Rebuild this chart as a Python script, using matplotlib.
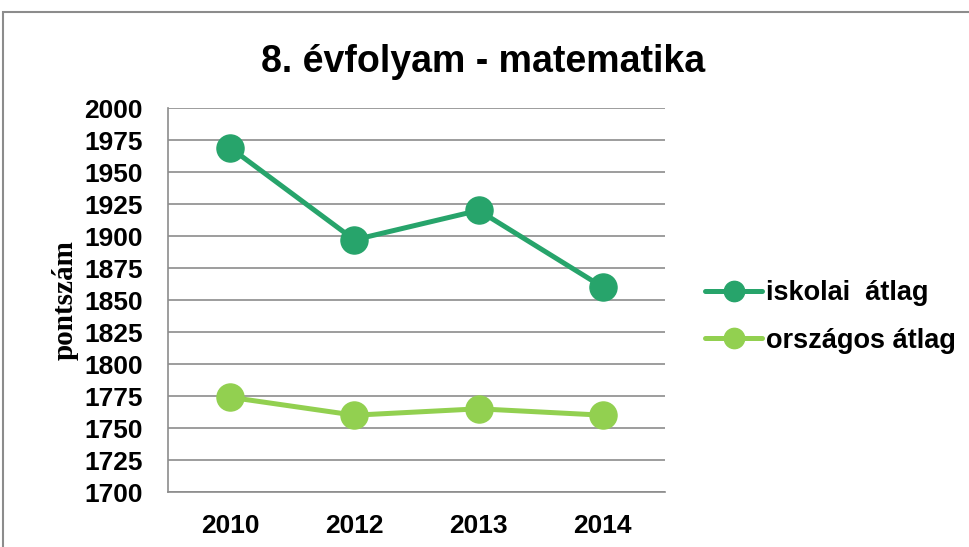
import matplotlib
matplotlib.use("Agg")
import matplotlib.pyplot as plt
from matplotlib.patches import Rectangle

years = ["2010", "2012", "2013", "2014"]
iskolai = [1969, 1897, 1920, 1860]
orszagos = [1774, 1760, 1765, 1760]
yticks = list(range(1700, 2001, 25))

title = "8. évfolyam - matematika"
ylabel = "pontszám"
labels = ["iskolai  átlag", "országos átlag"]
colors = ["#27A46B", "#92D050"]

fig = plt.figure(figsize=(9.69, 5.47), dpi=100)
W, H = 969, 547
ax = fig.add_axes([168 / W, 1 - 492 / H, (665 - 168) / W, (492 - 108) / H])

# outer border (cropped chart frame)
fig.patches.append(Rectangle((3 / W, -0.1), 1.1, 1 - 12 / H + 0.1, transform=fig.transFigure,
                             fill=False, edgecolor="#8c8c8c", linewidth=1.5))

x = list(range(len(years)))
for vals, c, lab in zip([iskolai, orszagos], colors, labels):
    ax.plot(x, vals, color=c, linewidth=3.6, marker="o", markersize=19.5, label=lab,
            solid_capstyle="round", zorder=3)

ax.set_xlim(-0.5, len(years) - 0.5)
ax.set_ylim(1700, 2000)
ax.set_yticks(yticks)
ax.set_xticks(x)
ax.set_xticklabels(years)
ax.yaxis.grid(True, color="#8c8c8c", linewidth=1.2)
ax.set_axisbelow(True)
for s in ["top", "right"]:
    ax.spines[s].set_visible(False)
for s in ["left", "bottom"]:
    ax.spines[s].set_color("#8c8c8c")
    ax.spines[s].set_linewidth(1.2)
ax.tick_params(axis="both", length=0)
ax.tick_params(axis="y", pad=18)
ax.tick_params(axis="x", pad=16)
for lbl in ax.get_yticklabels() + ax.get_xticklabels():
    lbl.set_fontfamily("Liberation Sans")
    lbl.set_fontweight("bold")
    lbl.set_fontsize(19)

ax.set_ylabel(ylabel, fontfamily="Liberation Serif", fontweight="bold", fontsize=21, labelpad=4)

fig.text(483 / W, 1 - 62 / H, title, ha="center", va="center",
         fontfamily="Liberation Sans", fontweight="bold", fontsize=27)

leg = fig.legend(loc="upper left", bbox_to_anchor=(700 / W, 1 - 275 / H), frameon=False,
                 prop={"family": "Liberation Sans", "weight": "bold", "size": 19.5},
                 handlelength=2.1, handletextpad=0.15, labelspacing=0.78, markerscale=0.75,
                 borderaxespad=0, borderpad=0.2)

fig.savefig("out.png", dpi=100)
